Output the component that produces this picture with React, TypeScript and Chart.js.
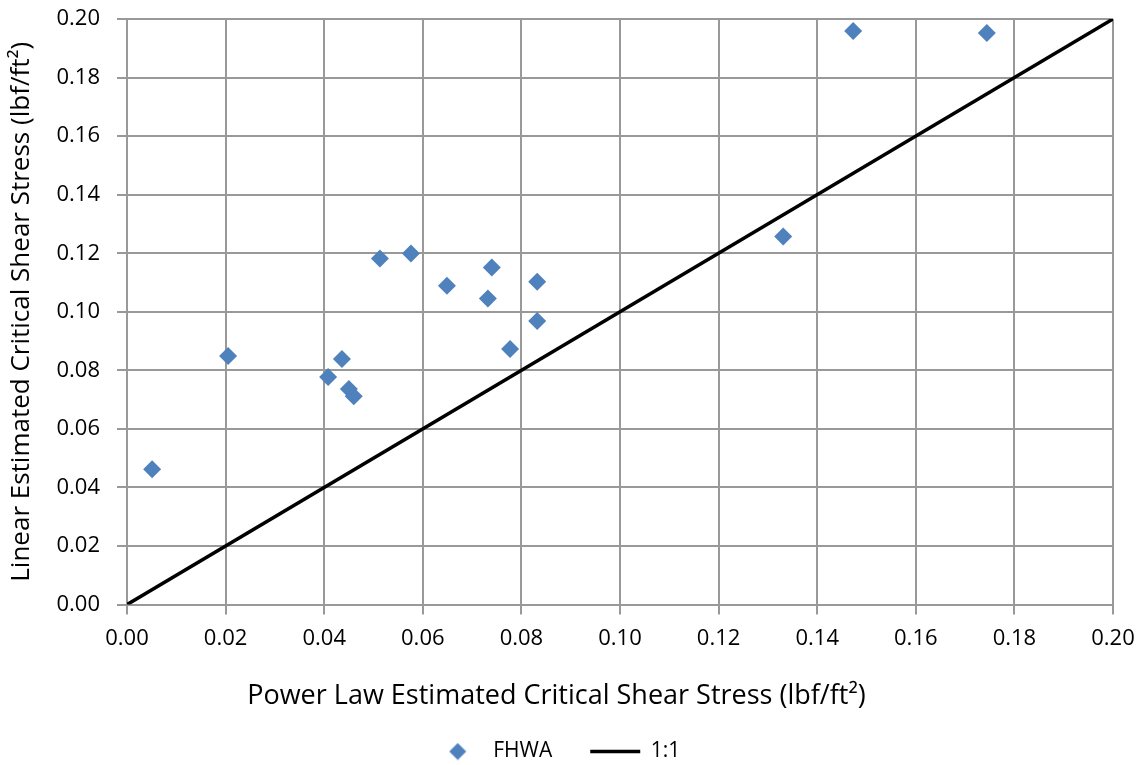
import React, { useEffect, useRef } from "react";
import { Chart, registerables } from "chart.js";

Chart.register(...registerables);

const powerLawX = [0.0051, 0.0205, 0.0408, 0.0436, 0.0450, 0.0460, 0.0513, 0.0576, 0.0649, 0.0732, 0.0740, 0.0777, 0.0832, 0.0832, 0.1331, 0.1473, 0.1744];
const linearY = [0.0462, 0.0849, 0.0777, 0.0839, 0.0736, 0.0712, 0.1182, 0.1199, 0.1089, 0.1045, 0.1151, 0.0873, 0.1103, 0.0969, 0.1257, 0.1959, 0.1952];
const oneToOneX = [0, 0.2];
const oneToOneY = [0, 0.2];
const seriesNames = ["FHWA", "1:1"];
const xTitle = "Power Law Estimated Critical Shear Stress (lbf/ft²)";
const yTitle = "Linear Estimated Critical Shear Stress (lbf/ft²)";

const FONT = "'Open Sans', sans-serif";
const GRID = "#999999";
const BLUE = "#4F81BD";

function diamondIcon(): HTMLCanvasElement {
  const c = document.createElement("canvas");
  c.width = 18;
  c.height = 18;
  const g = c.getContext("2d")!;
  g.fillStyle = BLUE;
  g.beginPath();
  g.moveTo(9, 0.5);
  g.lineTo(17.5, 9);
  g.lineTo(9, 17.5);
  g.lineTo(0.5, 9);
  g.closePath();
  g.fill();
  return c;
}

export default function App() {
  const ref = useRef<HTMLCanvasElement>(null);
  useEffect(() => {
    if (!ref.current) return;
    const icon = diamondIcon();
    const chart = new Chart(ref.current, {
      type: "scatter",
      data: {
        datasets: [
          {
            label: seriesNames[0],
            data: powerLawX.map((x, i) => ({ x, y: linearY[i] })),
            backgroundColor: BLUE,
            borderColor: BLUE,
            pointStyle: "rectRot",
            pointRadius: 9,
            pointHoverRadius: 9,
            borderWidth: 0,
          },
          {
            label: seriesNames[1],
            data: oneToOneX.map((x, i) => ({ x, y: oneToOneY[i] })),
            showLine: true,
            borderColor: "#000000",
            backgroundColor: "#000000",
            borderWidth: 3.5,
            pointRadius: 0,
            pointStyle: "line",
          },
        ],
      },
      options: {
        animation: false,
        responsive: false,
        layout: { padding: { left: 0, right: 31, top: 19, bottom: -7 } },
        plugins: {
          title: {
            display: true,
            position: "bottom",
            weight: 500,
            text: xTitle,
            color: "#000",
            font: { family: FONT, size: 27, weight: "normal" },
            padding: { top: 28, bottom: -10 },
          },
          legend: {
            position: "bottom",
            weight: 1000,
            labels: {
              usePointStyle: true,
              color: "#000",
              font: { family: FONT, size: 21 },
              padding: 38,
              boxHeight: 12,
              pointStyleWidth: 50,
              generateLabels: (ch: any) => {
                const items = Chart.defaults.plugins.legend.labels.generateLabels(ch);
                items.forEach((it: any, i: number) => {
                  if (i === 0) it.pointStyle = icon;
                });
                return items;
              },
            },
          },
          tooltip: { enabled: false },
        },
        scales: {
          x: {
            type: "linear",
            min: 0,
            max: 0.2,
            afterFit: (s: any) => {
              s.height = 48;
              s.paddingLeft = 0;
              s.paddingRight = 20;
            },
            ticks: {
              stepSize: 0.02,
              color: "#000",
              font: { family: FONT, size: 22 },
              callback: (v: any) => Number(v).toFixed(2),
              padding: 11,
              maxRotation: 0,
            },
            grid: { color: GRID, lineWidth: 2, tickLength: 10 },
            border: { color: GRID, width: 2 },
          },
          y: {
            type: "linear",
            min: 0,
            max: 0.2,
            afterFit: (s: any) => {
              s.width = 127;
              s.paddingTop = 13;
              s.paddingBottom = 13;
            },
            ticks: {
              stepSize: 0.02,
              color: "#000",
              font: { family: FONT, size: 22 },
              callback: (v: any) => Number(v).toFixed(2),
              padding: 17,
            },
            grid: { color: GRID, lineWidth: 2, tickLength: 10 },
            border: { color: GRID, width: 2 },
            title: {
              display: true,
              text: yTitle,
              color: "#000",
              font: { family: FONT, size: 26 },
              padding: { top: 6, bottom: 0 },
            },
          },
        },
      },
    });
    return () => chart.destroy();
  }, []);
  return (
    <div style={{ position: "fixed", left: 0, top: 0, width: 1144, height: 765, background: "#fff" }}>
      <canvas ref={ref} width={1144} height={765} />
    </div>
  );
}
